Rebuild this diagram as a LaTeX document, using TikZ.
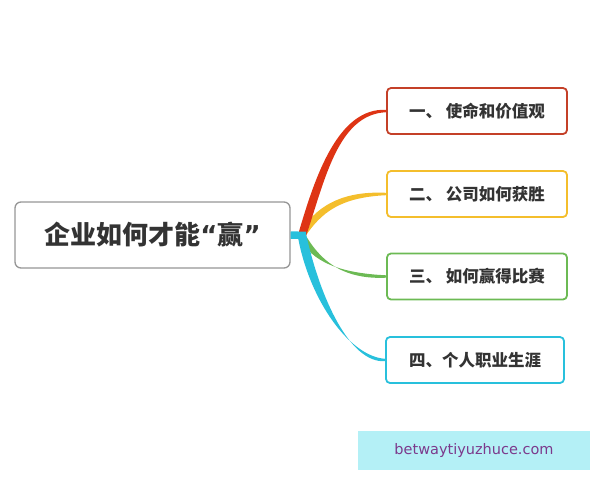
\documentclass[tikz,border=0pt]{standalone}
\usepackage{fontspec}
\newfontfamily\cjk{Noto Sans CJK SC}
\newfontfamily\webfont{DejaVu Sans}
\usetikzlibrary{positioning, calc}
\definecolor{inkgrey}{RGB}{51, 51, 51}
\definecolor{hubgrey}{RGB}{150, 150, 150}
\definecolor{redbranch}{RGB}{222, 52, 20}
\definecolor{redborder}{RGB}{196, 64, 40}
\definecolor{yellowbranch}{RGB}{244, 190, 44}
\definecolor{greenbranch}{RGB}{108, 186, 84}
\definecolor{cyanbranch}{RGB}{40, 192, 220}
\definecolor{markfill}{RGB}{180, 240, 246}
\definecolor{markink}{RGB}{124, 58, 140}
\tikzset{
  mainnode/.style={draw=hubgrey, line width=1.3pt, rounded corners=6pt, fill=white,
    minimum width=275pt, minimum height=66pt, text=inkgrey,
    font=\cjk\bfseries\fontsize{26}{30}\selectfont},
  topic/.style={draw=#1, line width=1.8pt, rounded corners=4pt, fill=white,
    minimum width=180pt, minimum height=46pt, text=inkgrey,
    font=\cjk\bfseries\fontsize{16.5}{18}\selectfont},
}
% tapered branch: colour, target node, control 1, control 2, start offset
\newcommand{\branchfill}[5]{%
  \fill[#1] ($(hub)+#5$) .. controls ($#3+1.3*#5$) and ($#4+(0,3.4)$) .. ($(#2.west)+(0,1.2)$)
    -- ($(#2.west)+(0,-1.2)$) .. controls ($#4+(0,-3.4)$) and ($#3-1.3*#5$) .. ($(hub)-#5$) -- cycle;}

\begin{document}
\begin{tikzpicture}[x=1pt, y=-1pt]
  \useasboundingbox (0,0) rectangle (600,480);

  \node[mainnode] (main) at (152.5,235) {企业如何才能{\webfont“}赢{\webfont”}};
  \coordinate (hub) at (302,235.5);

  \node[topic=redborder] (mission) at (477,111) {一、 使命和价值观};
  \node[topic=yellowbranch] (winning) at (477,194) {二、 公司如何获胜};
  \node[topic=greenbranch] (game) at (477,276.5) {三、 如何赢得比赛};
  \node[topic=cyanbranch, minimum width=178pt] (career) at (475,360) {四、个人职业生涯};

  \branchfill{yellowbranch}{winning}{(318,210)}{(340,194)}{(2.6,1.8)}
  \branchfill{redbranch}{mission}{(320,178)}{(338,111)}{(3.8,1.3)}
  \branchfill{greenbranch}{game}{(315,260)}{(340,276.5)}{(2.8,-1.6)}
  \branchfill{cyanbranch}{career}{(315,300)}{(350,360)}{(4.2,-0.8)}
  \draw[cyanbranch, line width=7.5pt] (main.east) -- ($(hub)+(4,0)$);

  \node[fill=markfill, minimum width=232pt, minimum height=39pt, text=markink,
    font=\webfont\fontsize{14.5}{16}\selectfont] (mark) at (474,450.5) {betwaytiyuzhuce.com};
\end{tikzpicture}
\end{document}
